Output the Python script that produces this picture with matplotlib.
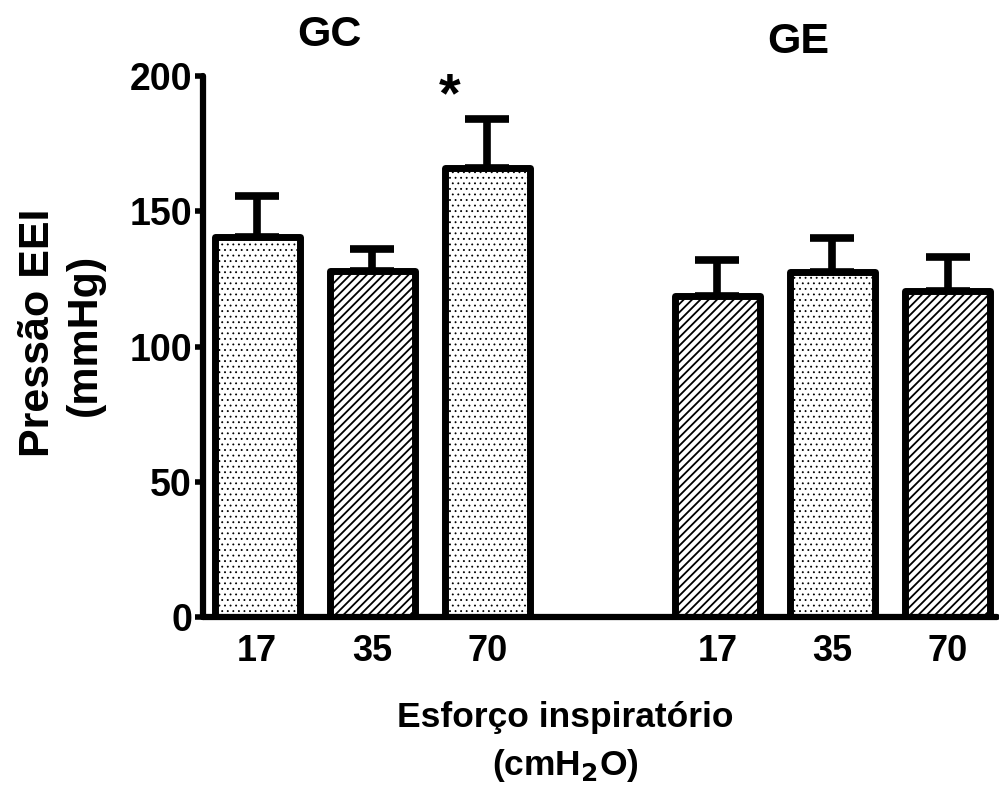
import matplotlib.pyplot as plt
import numpy as np

plt.rcParams['font.family'] = ['Liberation Sans', 'DejaVu Sans']
plt.rcParams['font.weight'] = 'bold'
plt.rcParams['hatch.color'] = 'black'

# data
groups = ["GC", "GE"]
efforts = ["17", "35", "70", "17", "35", "70"]
means = [140.5, 128, 166, 118.5, 127.5, 120.5]
sems = [15, 8, 18, 13.5, 12.5, 12.5]
hatches = ['...', '////', '...', '////', '...', '////']
positions = [0, 1, 2, 4, 5, 6]

fig = plt.figure(figsize=(9.99, 7.95), dpi=100)
ax = fig.add_axes([203 / 999, 1 - 617 / 795, (997 - 203) / 999, (617 - 76) / 795])

for x, m, s, h in zip(positions, means, sems, hatches):
    ax.errorbar(x, m, yerr=[[0], [s]], fmt='none', ecolor='black', elinewidth=5.5,
                capsize=16, capthick=5.5, zorder=1)
    plt.rcParams['hatch.linewidth'] = 0.6 if h.startswith('.') else 1.3
    b = ax.bar(x, m, width=0.74, facecolor='white', edgecolor='black', linewidth=5,
               hatch=h, zorder=2)
    b[0].set_joinstyle('round')

# significance mark
ax.text(1.67, 192, '*', ha='center', va='center', fontsize=40, fontweight='bold')

ax.set_xlim(-0.47, 6.43)
ax.set_ylim(0, 200)
ax.set_yticks([0, 50, 100, 150, 200])
ax.set_xticks(positions)
ax.set_xticklabels(efforts)
ax.tick_params(axis='y', direction='out', length=6, width=4, labelsize=27, pad=2)
ax.tick_params(axis='x', length=0, labelsize=26, pad=12)
for lab in ax.get_xticklabels() + ax.get_yticklabels():
    lab.set_fontweight('bold')
for side in ['top', 'right']:
    ax.spines[side].set_visible(False)
for side in ['left', 'bottom']:
    ax.spines[side].set_linewidth(4.5)
    ax.spines[side].set_capstyle('round')

fig.text(329 / 999, 1 - 35 / 795, groups[0], ha='center', va='center', fontsize=31, fontweight='bold')
fig.text(798 / 999, 1 - 42 / 795, groups[1], ha='center', va='center', fontsize=31, fontweight='bold')

fig.text(38 / 999, 1 - 333 / 795, 'Pressão EEI', rotation=90, ha='center', va='center',
         fontsize=31, fontweight='bold')
fig.text(85 / 999, 1 - 335 / 795, '(mmHg)', rotation=90, ha='center', va='center',
         fontsize=31, fontweight='bold')
fig.text(565 / 999, 1 - 718 / 795, 'Esforço inspiratório', ha='center', va='center',
         fontsize=25.5, fontweight='bold')
fig.text(565 / 999, 1 - 765 / 795, r'(cmH$_\mathbf{2}$O)', ha='center', va='center',
         fontsize=25.5, fontweight='bold')

fig.savefig('out.png', dpi=100)
